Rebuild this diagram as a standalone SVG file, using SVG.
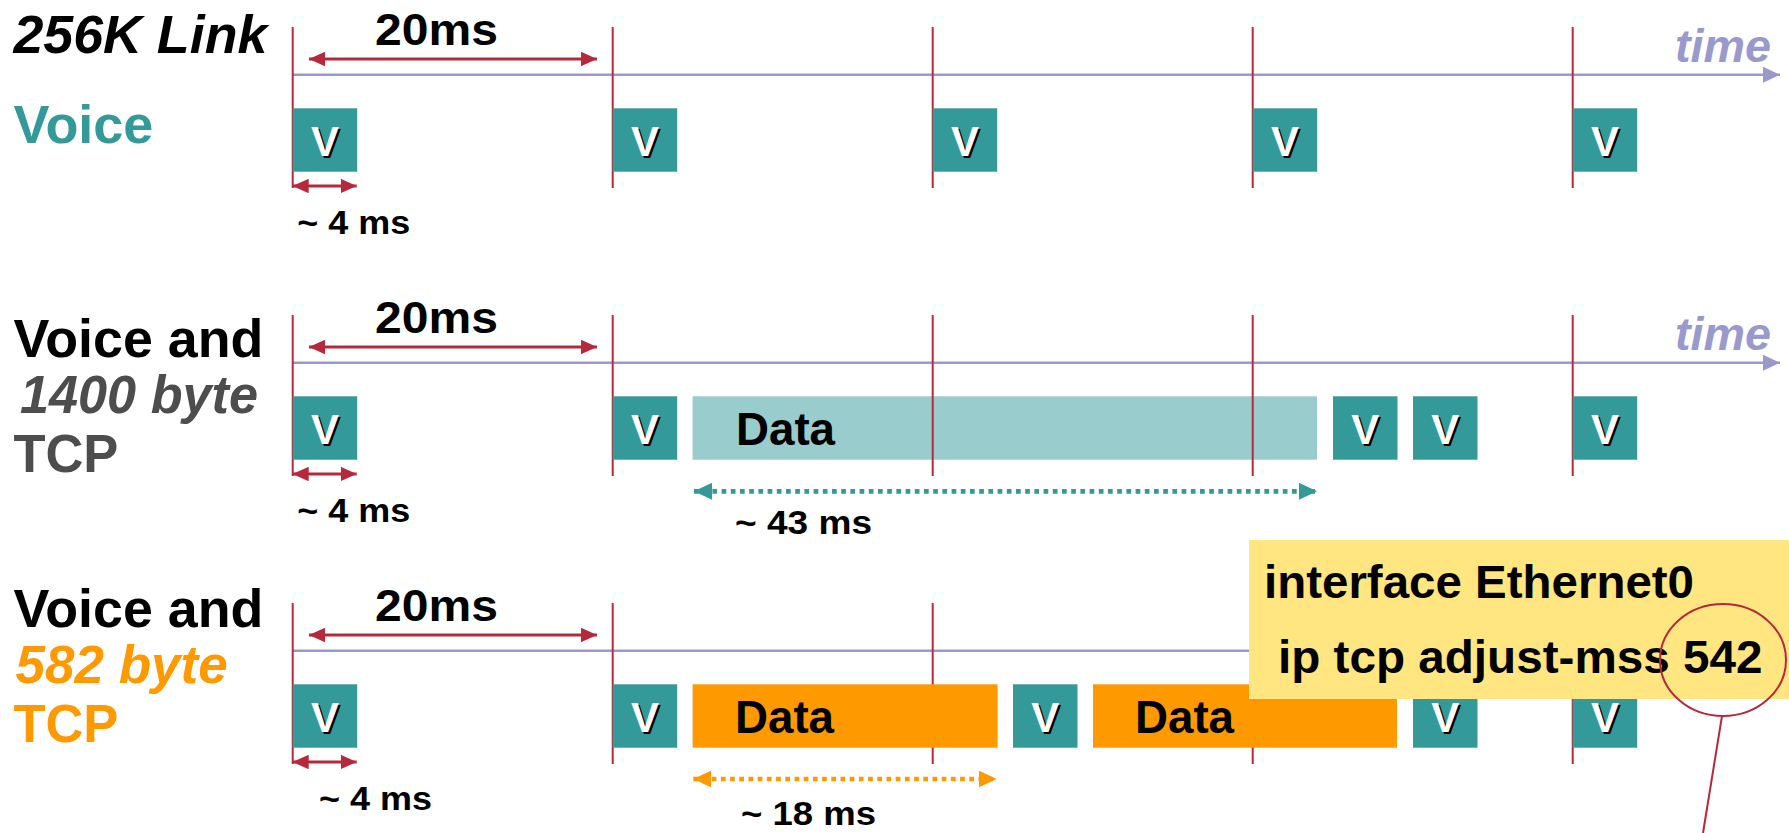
<svg xmlns="http://www.w3.org/2000/svg" width="1789" height="833" viewBox="0 0 1789 833">
  <defs>
    <style>
      text { font-family: "Liberation Sans", Arial, Helvetica, sans-serif; font-weight: bold; }
      .big { font-size: 53px; }
      .ms { font-size: 44px; fill: #000; }
      .small { font-size: 34px; fill: #000; }
      .it { font-style: italic; }
      .vbox { fill: #339999; }
      .vt { font-size: 42px; fill: #fff; text-anchor: middle; }
      .vs { font-size: 42px; fill: #000; text-anchor: middle; }
      .dtxt { font-size: 46px; fill: #000; }
      .tick { stroke: #B8283C; stroke-width: 2; }
      .dim { stroke: #B8283C; stroke-width: 3; marker-start: url(#redHead); marker-end: url(#redHead); }
      .axis { stroke: #9999CC; stroke-width: 2.5; }
      .axisArrow { marker-end: url(#axisHead); }
      .dotT { stroke: #339999; stroke-width: 4.7; stroke-dasharray: 4.7 4.5; }
      .dotO { stroke: #FF9900; stroke-width: 4.7; stroke-dasharray: 4.7 4.5; }
    </style>
    <marker id="redHead" markerUnits="userSpaceOnUse" markerWidth="16" markerHeight="15" refX="16" refY="7.25" orient="auto-start-reverse" viewBox="0 0 16 14.5">
      <path d="M0,0 L16,7.25 L0,14.5 z" fill="#B8283C"/>
    </marker>
    <marker id="axisHead" markerUnits="userSpaceOnUse" markerWidth="17" markerHeight="16" refX="17" refY="8" orient="auto" viewBox="0 0 17 16">
      <path d="M0,0 L17,8 L0,16 z" fill="#9999CC"/>
    </marker>
    <marker id="tealHead" markerUnits="userSpaceOnUse" markerWidth="18" markerHeight="17" refX="18" refY="8.5" orient="auto-start-reverse" viewBox="0 0 18 17">
      <path d="M0,0 L18,8.5 L0,17 z" fill="#339999"/>
    </marker>
    <marker id="orangeHead" markerUnits="userSpaceOnUse" markerWidth="18" markerHeight="17" refX="18" refY="8.5" orient="auto-start-reverse" viewBox="0 0 18 17">
      <path d="M0,0 L18,8.5 L0,17 z" fill="#FF9900"/>
    </marker>
  </defs>

  <rect width="1789" height="833" fill="#fff"/>

  <!-- Row labels -->
  <g id="label-row1">
    <text class="big it" x="13.4" y="52.7" fill="#000" textLength="254" lengthAdjust="spacingAndGlyphs">256K Link</text>
    <text class="big" x="13.4" y="142.7" fill="#339999" textLength="140" lengthAdjust="spacingAndGlyphs">Voice</text>
  </g>
  <g id="label-row2">
    <text class="big" x="13.4" y="356.7" fill="#000" textLength="250" lengthAdjust="spacingAndGlyphs">Voice and</text>
    <text class="big it" x="20" y="413" fill="#4D4D4D" textLength="238" lengthAdjust="spacingAndGlyphs">1400 byte</text>
    <text class="big" x="13.4" y="471.7" fill="#4D4D4D" textLength="105" lengthAdjust="spacingAndGlyphs">TCP</text>
  </g>
  <g id="label-row3">
    <text class="big" x="13.4" y="626.7" fill="#000" textLength="250" lengthAdjust="spacingAndGlyphs">Voice and</text>
    <text class="big it" x="15.6" y="683.3" fill="#FF9900" textLength="212" lengthAdjust="spacingAndGlyphs">582 byte</text>
    <text class="big" x="13.4" y="741.7" fill="#FF9900" textLength="105" lengthAdjust="spacingAndGlyphs">TCP</text>
  </g>

  <!-- Row 1: voice only -->
  <g id="row1">
    <g id="row1-axis">
      <line class="axis axisArrow" x1="292.7" y1="74.7" x2="1780" y2="74.7"/>
      <text class="it" x="1675" y="61.5" font-size="46" fill="#9999CC" textLength="96" lengthAdjust="spacingAndGlyphs">time</text>
    </g>
    <g id="row1-ticks">
      <line class="tick" x1="292.7" y1="27" x2="292.7" y2="188"/>
      <line class="tick" x1="612.7" y1="27" x2="612.7" y2="188"/>
      <line class="tick" x1="932.7" y1="27" x2="932.7" y2="188"/>
      <line class="tick" x1="1252.7" y1="27" x2="1252.7" y2="188"/>
      <line class="tick" x1="1572.7" y1="27" x2="1572.7" y2="188"/>
    </g>
    <g id="row1-dims">
      <line class="dim" x1="309" y1="59" x2="597" y2="59"/>
      <text class="ms" x="375" y="44.5" textLength="123" lengthAdjust="spacingAndGlyphs">20ms</text>
      <line class="dim" x1="292.7" y1="186" x2="356.7" y2="186"/>
      <text class="small" x="297.3" y="234.3" textLength="113" lengthAdjust="spacingAndGlyphs">~ 4 ms</text>
    </g>
    <g id="row1-v1"><rect class="vbox" x="292.7" y="108.3" width="64.5" height="63.4"/><text class="vs" x="327" y="158">V</text><text class="vt" x="325" y="156">V</text></g>
    <g id="row1-v2"><rect class="vbox" x="612.7" y="108.3" width="64.5" height="63.4"/><text class="vs" x="647" y="158">V</text><text class="vt" x="645" y="156">V</text></g>
    <g id="row1-v3"><rect class="vbox" x="932.7" y="108.3" width="64.5" height="63.4"/><text class="vs" x="967" y="158">V</text><text class="vt" x="965" y="156">V</text></g>
    <g id="row1-v4"><rect class="vbox" x="1252.7" y="108.3" width="64.5" height="63.4"/><text class="vs" x="1287" y="158">V</text><text class="vt" x="1285" y="156">V</text></g>
    <g id="row1-v5"><rect class="vbox" x="1572.7" y="108.3" width="64.5" height="63.4"/><text class="vs" x="1607" y="158">V</text><text class="vt" x="1605" y="156">V</text></g>
  </g>

  <!-- Row 2: voice with 1400 byte TCP -->
  <g id="row2" transform="translate(0,288)">
    <g id="row2-axis">
      <line class="axis axisArrow" x1="292.7" y1="74.7" x2="1780" y2="74.7"/>
      <text class="it" x="1675" y="61.5" font-size="46" fill="#9999CC" textLength="96" lengthAdjust="spacingAndGlyphs">time</text>
    </g>
    <g id="row2-data">
      <rect x="692.6" y="108.3" width="624.4" height="63.4" fill="#99CCCC"/>
      <text class="dtxt" x="736" y="157.3" textLength="99" lengthAdjust="spacingAndGlyphs">Data</text>
    </g>
    <g id="row2-ticks">
      <line class="tick" x1="292.7" y1="27" x2="292.7" y2="188"/>
      <line class="tick" x1="612.7" y1="27" x2="612.7" y2="188"/>
      <line class="tick" x1="932.7" y1="27" x2="932.7" y2="188"/>
      <line class="tick" x1="1252.7" y1="27" x2="1252.7" y2="188"/>
      <line class="tick" x1="1572.7" y1="27" x2="1572.7" y2="188"/>
    </g>
    <g id="row2-dims">
      <line class="dim" x1="309" y1="59" x2="597" y2="59"/>
      <text class="ms" x="375" y="44.5" textLength="123" lengthAdjust="spacingAndGlyphs">20ms</text>
      <line class="dim" x1="292.7" y1="186" x2="356.7" y2="186"/>
      <text class="small" x="297.3" y="234.3" textLength="113" lengthAdjust="spacingAndGlyphs">~ 4 ms</text>
      <line class="dotT" x1="694" y1="203.3" x2="1317" y2="203.3" marker-start="url(#tealHead)" marker-end="url(#tealHead)"/>
      <text class="small" x="735" y="246" textLength="137" lengthAdjust="spacingAndGlyphs">~ 43 ms</text>
    </g>
    <g id="row2-v1"><rect class="vbox" x="292.7" y="108.3" width="64.5" height="63.4"/><text class="vs" x="327" y="158">V</text><text class="vt" x="325" y="156">V</text></g>
    <g id="row2-v2"><rect class="vbox" x="612.7" y="108.3" width="64.5" height="63.4"/><text class="vs" x="647" y="158">V</text><text class="vt" x="645" y="156">V</text></g>
    <g id="row2-v3"><rect class="vbox" x="1333" y="108.3" width="64.5" height="63.4"/><text class="vs" x="1367.3" y="158">V</text><text class="vt" x="1365.3" y="156">V</text></g>
    <g id="row2-v4"><rect class="vbox" x="1413" y="108.3" width="64.5" height="63.4"/><text class="vs" x="1447.3" y="158">V</text><text class="vt" x="1445.3" y="156">V</text></g>
    <g id="row2-v5"><rect class="vbox" x="1572.7" y="108.3" width="64.5" height="63.4"/><text class="vs" x="1607" y="158">V</text><text class="vt" x="1605" y="156">V</text></g>
  </g>

  <!-- Row 3: voice with 582 byte TCP -->
  <g id="row3" transform="translate(0,576)">
    <g id="row3-axis">
      <line class="axis" x1="292.7" y1="74.7" x2="1260" y2="74.7"/>
    </g>
    <g id="row3-ticks">
      <line class="tick" x1="292.7" y1="27" x2="292.7" y2="188"/>
      <line class="tick" x1="612.7" y1="27" x2="612.7" y2="188"/>
      <line class="tick" x1="932.7" y1="27" x2="932.7" y2="188"/>
      <line class="tick" x1="1252.7" y1="27" x2="1252.7" y2="188"/>
      <line class="tick" x1="1572.7" y1="27" x2="1572.7" y2="188"/>
    </g>
    <g id="row3-dims">
      <line class="dim" x1="309" y1="59" x2="597" y2="59"/>
      <text class="ms" x="375" y="44.5" textLength="123" lengthAdjust="spacingAndGlyphs">20ms</text>
      <line class="dim" x1="292.7" y1="186" x2="356.7" y2="186"/>
      <text class="small" x="319" y="234.3" textLength="113" lengthAdjust="spacingAndGlyphs">~ 4 ms</text>
      <line class="dotO" x1="693.3" y1="203" x2="996.7" y2="203" marker-start="url(#orangeHead)" marker-end="url(#orangeHead)"/>
      <text class="small" x="741" y="249" textLength="135" lengthAdjust="spacingAndGlyphs">~ 18 ms</text>
    </g>
    <g id="row3-data1">
      <rect x="692.6" y="108.3" width="305" height="63.4" fill="#FF9900"/>
      <text class="dtxt" x="735" y="157.3" textLength="99" lengthAdjust="spacingAndGlyphs">Data</text>
    </g>
    <g id="row3-data2">
      <rect x="1093" y="108.3" width="304" height="63.4" fill="#FF9900"/>
      <text class="dtxt" x="1135" y="157.3" textLength="99" lengthAdjust="spacingAndGlyphs">Data</text>
    </g>
    <g id="row3-v1"><rect class="vbox" x="292.7" y="108.3" width="64.5" height="63.4"/><text class="vs" x="327" y="158">V</text><text class="vt" x="325" y="156">V</text></g>
    <g id="row3-v2"><rect class="vbox" x="612.7" y="108.3" width="64.5" height="63.4"/><text class="vs" x="647" y="158">V</text><text class="vt" x="645" y="156">V</text></g>
    <g id="row3-v3"><rect class="vbox" x="1013" y="108.3" width="64.5" height="63.4"/><text class="vs" x="1047.3" y="158">V</text><text class="vt" x="1045.3" y="156">V</text></g>
    <g id="row3-v4"><rect class="vbox" x="1413" y="108.3" width="64.5" height="63.4"/><text class="vs" x="1447.3" y="158">V</text><text class="vt" x="1445.3" y="156">V</text></g>
    <g id="row3-v5"><rect class="vbox" x="1572.7" y="108.3" width="64.5" height="63.4"/><text class="vs" x="1607" y="158">V</text><text class="vt" x="1605" y="156">V</text></g>
  </g>

  <!-- Router configuration callout -->
  <g id="config-note">
    <rect x="1249" y="540" width="540" height="159" fill="#FFE680"/>
    <text x="1264" y="598" font-size="47" fill="#000" textLength="430" lengthAdjust="spacingAndGlyphs">interface Ethernet0</text>
    <text x="1278" y="673" font-size="47" fill="#000" textLength="484.5" lengthAdjust="spacingAndGlyphs">ip tcp adjust-mss 542</text>
  </g>
  <g id="mss-highlight" fill="none" stroke="#B8283C" stroke-width="2">
    <ellipse cx="1723" cy="660" rx="63" ry="56"/>
    <line x1="1722" y1="716" x2="1703" y2="833"/>
  </g>
</svg>
